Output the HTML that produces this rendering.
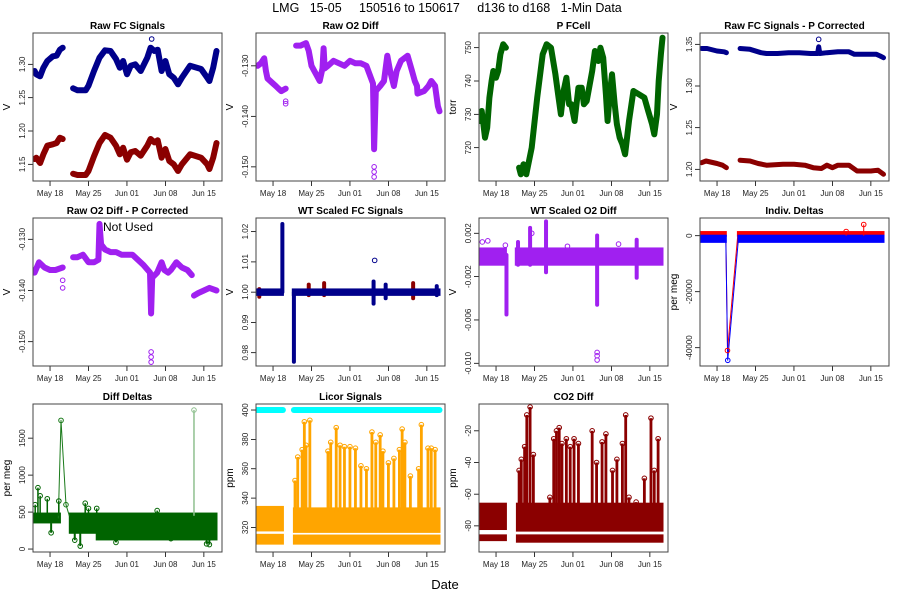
<!DOCTYPE html>
<html><head><meta charset="utf-8"><style>
html,body{margin:0;padding:0;background:#fff;}
svg{display:block;font-family:"Liberation Sans",Arial,sans-serif;}
</style></head><body>
<svg id="chart" width="900" height="600" viewBox="0 0 900 600" xmlns="http://www.w3.org/2000/svg">
<text x="447" y="12" text-anchor="middle" font-size="12.5" fill="#000" style="white-space:pre" xml:space="preserve">LMG   15-05     150516 to 150617     d136 to d168   1-Min Data</text>
<text x="445" y="589" text-anchor="middle" font-size="13" fill="#000">Date</text>
</svg>
<script>
// ---- x axis (days relative to May 18) ----
const xTickDays = [0, 7, 14, 21, 28];
const xTickLabels = ["May 18", "May 25", "Jun 01", "Jun 08", "Jun 15"];

// ---- Panel 1: Raw FC Signals ----
const p1Blue = [[-2.8,1.29],[-2.5,1.285],[-1.8,1.282],[-1.2,1.295],[-0.5,1.305],[0.5,1.312],[1.2,1.313],[1.8,1.322],[2.3,1.325],null,[4.2,1.264],[5,1.261],[6.5,1.261],[7,1.268],[8,1.29],[9,1.31],[10,1.321],[11,1.32],[12,1.308],[12.7,1.295],[13.3,1.305],[14,1.285],[14.7,1.298],[15.5,1.30],[16.5,1.29],[17.7,1.31],[18.3,1.325],[19,1.32],[19.6,1.322],[20.3,1.29],[21,1.305],[21.7,1.285],[22.5,1.28],[23.3,1.27],[24,1.28],[25.5,1.298],[27.5,1.293],[28.6,1.28],[29,1.275],[29.7,1.295],[30.3,1.32]];
const p1Red = [[-2.8,1.158],[-2.5,1.16],[-1.8,1.152],[-1.2,1.165],[-0.5,1.178],[0.5,1.18],[1.2,1.182],[1.8,1.19],[2.3,1.188],null,[4.2,1.136],[5,1.134],[6.5,1.134],[7,1.14],[8,1.162],[9,1.182],[10,1.194],[11,1.19],[12,1.178],[12.7,1.165],[13.3,1.175],[14,1.157],[14.7,1.168],[15.5,1.17],[16.5,1.163],[17.7,1.178],[18.3,1.188],[19,1.183],[19.6,1.186],[20.3,1.16],[21,1.173],[21.7,1.155],[22.5,1.15],[23.3,1.14],[24,1.15],[25.5,1.165],[27.5,1.16],[28.6,1.15],[29,1.143],[29.7,1.16],[30.3,1.182]];
const p1BlueOutliers = [[18.5,1.338]];

// ---- Panel 2: Raw O2 Diff ----
const p2Purple = [[-2.8,-0.130],[-2.2,-0.1295],[-1.6,-0.1285],[-1.3,-0.131],[-1,-0.1325],[0,-0.1335],[0.5,-0.134],[1,-0.1345],[1.5,-0.135],[2.3,-0.1345],null,[4.2,-0.126],[5,-0.126],[6,-0.1255],[6.5,-0.127],[7,-0.13],[8,-0.132],[8.5,-0.133],[9,-0.1305],[9.2,-0.1265],[9.4,-0.1305],[10,-0.130],[11,-0.129],[12,-0.1295],[13,-0.130],[14,-0.129],[15,-0.1295],[16,-0.1295],[17,-0.130],[18.2,-0.1335],[18.4,-0.1465],[18.7,-0.135],[19.5,-0.134],[20.2,-0.133],[20.8,-0.128],[21.3,-0.131],[22,-0.134],[22.5,-0.131],[23.3,-0.129],[24.5,-0.128],[25.3,-0.131],[25.8,-0.133],[26.2,-0.134],[26.3,-0.1355],[27.5,-0.135],[28.3,-0.134],[28.8,-0.133],[29.5,-0.134],[30,-0.138],[30.3,-0.139]];
const p2Outliers = [[2.3,-0.137],[2.3,-0.1375],[18.4,-0.150],[18.4,-0.151],[18.4,-0.152]];

// ---- Panel 3: P FCell ----
const p3Green = [[-2.9,728],[-2.6,731],[-2.3,727],[-2,723],[-1.6,726],[-1.2,735],[-0.8,740],[-0.5,743],[0,741],[0.4,743],[0.8,748],[1.3,751],[1.8,750],null,[4.2,714],[4.5,712],[5,715],[5.5,712],[6.5,720],[7.5,735],[8.5,748],[9.2,751],[10,750],[10.8,742],[11.3,736],[11.8,730],[12.3,737],[12.8,741],[13.3,733],[13.7,733],[14.3,728],[15,738],[15.6,738],[16,733],[16.5,734],[17.5,743],[18,749],[18.6,746],[19,750],[19.5,747],[20,736],[20.3,728],[20.7,736],[21.1,742],[21.6,733],[22,727],[22.5,723],[23,721],[23.5,718],[24.2,728],[25,737],[26,736],[27,735],[27.7,731],[28.4,727],[28.8,724],[29.3,730],[29.6,740],[30,748],[30.3,753]];

// ---- Panel 4: Raw FC Signals - P Corrected ----
const p4Blue = [[-2.8,1.345],[-1.8,1.345],[0,1.342],[1.3,1.341],[1.7,1.340],null,[4.2,1.345],[6,1.344],[8,1.340],[9,1.339],[11,1.339],[13,1.340],[15,1.340],[17,1.339],[18.3,1.339],[18.5,1.347],[18.7,1.339],[20,1.340],[22,1.341],[24,1.341],[25,1.338],[27,1.338],[29,1.338],[29.7,1.336],[30.3,1.334]];
const p4Red = [[-2.8,1.208],[-2,1.210],[0,1.207],[1,1.205],[1.7,1.202],null,[4.2,1.211],[6,1.210],[7.5,1.207],[9,1.205],[12,1.206],[14,1.206],[16,1.205],[17.5,1.202],[19,1.201],[20,1.205],[21,1.202],[22,1.205],[24,1.205],[25.5,1.198],[28,1.198],[29.3,1.199],[30.3,1.194]];
const p4Outliers = [[18.5,1.356]];

// ---- Panel 5: Raw O2 Diff - P Corrected ----
const p5Purple = [[-2.8,-0.1365],[-2,-0.1345],[-1,-0.1355],[0,-0.136],[1,-0.136],[2.3,-0.1355],null,[4.2,-0.1335],[5,-0.1335],[6,-0.133],[7,-0.1345],[8,-0.1345],[8.8,-0.134],[9,-0.1270],[9.3,-0.131],[10,-0.132],[11,-0.1325],[12,-0.1325],[13,-0.133],[14,-0.133],[15,-0.133],[16,-0.134],[17,-0.135],[18.2,-0.1365],[18.4,-0.1445],[18.6,-0.1375],[19.5,-0.1365],[20.3,-0.1345],[20.8,-0.136],[21.5,-0.1365],[22,-0.136],[23,-0.1345],[24,-0.1355],[25,-0.136],[25.8,-0.137],null,[26.2,-0.141],[27,-0.1405],[28,-0.140],[29,-0.1395],[30.3,-0.140]];
const p5Outliers = [[2.3,-0.138],[2.3,-0.1395],[18.4,-0.152],[18.4,-0.153],[18.4,-0.154]];

// ---- Panel 6: WT Scaled FC Signals ----
const p6BlueBands = [[-2.9,1.8,0.9991,1.0009],[3.6,30.3,0.9991,1.0009]];
const p6BlueSegs = [[1.7,1.0,1.0225],[3.8,0.977,1.0],[18.3,0.9962,1.0035],[20.5,0.998,1.0025],[29.8,0.999,1.002]];
const p6RedSegs = [[-2.5,0.9985,1.001],[6.5,0.999,1.0025],[9.3,0.999,1.003],[25.5,0.998,1.003]];
const p6BlueOutliers = [[18.5,1.0105]];

// ---- Panel 7: WT Scaled O2 Diff ----
const p7Bands = [[-2.9,1.8,-0.0009,0.0006],[3.6,30.3,-0.0009,0.0006]];
const p7Segs = [[1.9,-0.0055,0.0],[4.0,-0.0009,0.0012],[6.2,-0.0009,0.0025],[9.1,-0.0016,0.0031],[18.4,-0.0046,0.0018],[25.6,-0.0021,0.0014]];
const p7Outliers = [[18.4,-0.009],[18.4,-0.0093],[18.4,-0.0097],[-2.5,0.0012],[-1.5,0.0013],[1.7,0.0009],[6.5,0.002],[13,0.0008],[22.3,0.001]];

// ---- Panel 8: Indiv. Deltas ----
const p8RedLine = [[-2.9,700],[1.6,700],[1.9,-41000],[3.8,700],[30.3,700]];
const p8BlueLine = [[-2.9,-900],[1.6,-900],[1.95,-44500],[3.9,-900],[30.3,-900]];
const p8RedOutliers = [[1.9,-41000],[26.7,4000],[23.5,1500]];
const p8BlueOutliers = [[1.95,-44500]];

// ---- Panel 9: Diff Deltas ----
const p9Bands = [[-2.9,1.8,360,480],[3.6,8.5,220,480],[8.5,30.3,130,480]];
const p9Line = [[1.5,420],[2,1740],[2.9,600],[3.5,450]];
const p9Spikes = [[-2.7,600],[-2.2,830],[-1.8,720],[-0.5,680],[1.6,650],[6.4,620],[7,550],[8.5,550],[19.5,520]];
const p9LowSpikes = [[0.2,220],[4.5,120],[5.5,40],[29,60],[28.5,70],[22,140],[12,90]];
const p9LightSpike = [26.2,1880];

// ---- Panel 10: Licor Signals ----
const p10Cyan = [[-2.9,1.8],[3.8,30.3]];
const p10CyanValue = 400;
const p10Bands = [[-2.9,1.8,309,315],[3.8,30.3,309,314.5],[-2.9,1.8,318,334],[3.8,30.3,317,333]];
const p10Spikes = [[4,352],[4.5,368],[5.3,373],[5.7,392],[6,376],[6.7,393],[10,372],[10.5,378],[11.5,388],[12.2,376],[13,375],[14,375],[15,374],[16,362],[17,360],[18,385],[18.7,378],[19.5,383],[20,372],[21,364],[22,367],[23,373],[23.5,387],[24,378],[25,355],[26.5,360],[27,390],[28.2,374],[28.8,374],[29.5,373]];

// ---- Panel 11: CO2 Diff ----
const p11Bands = [[-2.9,1.8,-89,-86],[3.8,30.3,-90,-86],[-2.9,1.8,-82,-66],[3.8,30.3,-83,-66]];
const p11Spikes = [[4.2,-45],[4.6,-38],[5.2,-30],[5.6,-10],[6.2,-5],[6.8,-35],[9.8,-62],[10.5,-25],[11,-20],[11.5,-18],[12,-28],[12.8,-25],[13.5,-30],[14.2,-25],[15,-28],[17.5,-20],[18.3,-40],[19.3,-27],[20,-22],[21.2,-45],[22,-38],[23,-28],[23.6,-10],[24.2,-62],[25.5,-65],[27,-50],[28.2,-12],[28.8,-45],[29.5,-25]];

const svg = document.getElementById('chart');
const NS = 'http://www.w3.org/2000/svg';
const colX = [33, 256, 479, 700], rowY = [33, 218, 404], PW = 189, PH = 148;
const XMIN = -3.1, XMAX = 31.3;

function mk(tag, attrs, parent) {
  const e = document.createElementNS(NS, tag);
  for (const k in attrs) e.setAttribute(k, attrs[k]);
  (parent || svg).appendChild(e);
  return e;
}

function makePanel(name, col, row, ymin, ymax, ticks, labels, title, ylab) {
  const x0 = colX[col], y0 = rowY[row];
  const g = mk('g', {});
  
  
  const P = {
    g: g, x0: x0, y0: y0,
    X: d => x0 + (d - XMIN) / (XMAX - XMIN) * PW,
    Y: v => y0 + PH - (v - ymin) / (ymax - ymin) * PH
  };
  const clip = mk('clipPath', { id: 'clip-' + name }, g);
  mk('rect', { x: x0, y: y0, width: PW, height: PH }, clip);
  P.plot = mk('g', { 'clip-path': 'url(#clip-' + name + ')' }, g);
  
  
  const t = mk('text', { x: x0 + PW / 2, y: y0 - 4, 'text-anchor': 'middle', 'font-size': 10, 'font-weight': 'bold' }, g);
  t.textContent = title;
  
  
  const yl = mk('text', { transform: 'translate(' + (x0 - 23) + ',' + (y0 + PH / 2) + ') rotate(-90)', 'text-anchor': 'middle', 'font-size': 10 }, g);
  yl.textContent = ylab;
  
  
  ticks.forEach((v, i) => {
    const y = P.Y(v);
    mk('line', { x1: x0 - 5, x2: x0, y1: y, y2: y, stroke: '#000', 'stroke-width': 0.8 }, g);
    const tl = mk('text', { transform: 'translate(' + (x0 - 8) + ',' + y + ') rotate(-90)', 'text-anchor': 'middle', 'font-size': 8, fill: '#222' }, g);
    tl.textContent = labels[i];
    
    
  });
  xTickDays.forEach((d, i) => {
    const x = P.X(d);
    mk('line', { x1: x, x2: x, y1: y0 + PH, y2: y0 + PH + 5, stroke: '#000', 'stroke-width': 0.8 }, g);
    const xl = mk('text', { x: x, y: y0 + PH + 15, 'text-anchor': 'middle', 'font-size': 8, fill: '#222' }, g);
    xl.textContent = xTickLabels[i];
    
    
  });
  P.frame = () => {
    const fr = mk('rect', { x: x0, y: y0, width: PW, height: PH, fill: 'none', stroke: '#444', 'stroke-width': 1 }, g);
    
    
  };
  return P;
}

function pathOf(P, pts) {
  let d = '', pen = false;
  pts.forEach(p => {
    if (!p) { pen = false; return; }
    d += (pen ? 'L' : 'M') + P.X(p[0]).toFixed(1) + ',' + P.Y(p[1]).toFixed(1);
    pen = true;
  });
  return d;
}
function thickLine(P, pts, color, w, nm) {
  const e = mk('path', { d: pathOf(P, pts), fill: 'none', stroke: color, 'stroke-width': w, 'stroke-linejoin': 'round', 'stroke-linecap': 'round' }, P.plot);
  
  
}
function circles(P, pts, color, nm) {
  pts.forEach(p => {
    const c = mk('circle', { cx: P.X(p[0]), cy: P.Y(p[1]), r: 2.3, fill: 'none', stroke: color, 'stroke-width': 1 }, P.plot);
    
    
  });
}
function bands(P, arr, color, nm) {
  arr.forEach(b => {
    const r = mk('rect', { x: P.X(b[0]) - 1, y: P.Y(b[3]) - 1, width: P.X(b[1]) - P.X(b[0]) + 2, height: P.Y(b[2]) - P.Y(b[3]) + 2, fill: color }, P.plot);
    
    
  });
}
function segs(P, arr, color, w, nm) {
  arr.forEach(s => {
    const l = mk('line', { x1: P.X(s[0]), x2: P.X(s[0]), y1: P.Y(s[1]), y2: P.Y(s[2]), stroke: color, 'stroke-width': w, 'stroke-linecap': 'round' }, P.plot);
    
    
  });
}
function spikes(P, arr, base, color, w, nm) {
  arr.forEach(s => {
    const l = mk('line', { x1: P.X(s[0]), x2: P.X(s[0]), y1: P.Y(base), y2: P.Y(s[1]), stroke: color, 'stroke-width': w }, P.plot);
    
    
    const c = mk('circle', { cx: P.X(s[0]), cy: P.Y(s[1]), r: 2.3, fill: 'none', stroke: color, 'stroke-width': 1 }, P.plot);
    
    
  });
}

const BLUE = '#00008B', RED = '#8B0000', PURPLE = '#A020F0', GREEN = '#006400', ORANGE = '#FFA500';

let P = makePanel('raw-fc-signals', 0, 0, 1.125, 1.347, [1.15, 1.20, 1.25, 1.30], ['1.15', '1.20', '1.25', '1.30'], 'Raw FC Signals', 'V');
thickLine(P, p1Blue, BLUE, 6, 'series-fc-blue');
thickLine(P, p1Red, RED, 6, 'series-fc-red');
circles(P, p1BlueOutliers, BLUE, 'fc-blue-outlier');
P.frame();

P = makePanel('raw-o2-diff', 1, 0, -0.1528, -0.1235, [-0.150, -0.140, -0.130], ['-0.150', '-0.140', '-0.130'], 'Raw O2 Diff', 'V');
thickLine(P, p2Purple, PURPLE, 6, 'series-o2-diff');
circles(P, p2Outliers, PURPLE, 'o2-diff-outlier');
P.frame();

P = makePanel('p-fcell', 2, 0, 710.0, 754.4, [720, 730, 740, 750], ['720', '730', '740', '750'], 'P FCell', 'torr');
thickLine(P, p3Green, GREEN, 6, 'series-p-fcell');
P.frame();

P = makePanel('raw-fc-p-corrected', 3, 0, 1.186, 1.3636, [1.20, 1.25, 1.30, 1.35], ['1.20', '1.25', '1.30', '1.35'], 'Raw FC Signals - P Corrected', 'V');
thickLine(P, p4Blue, BLUE, 5, 'series-fc-corr-blue');
thickLine(P, p4Red, RED, 5, 'series-fc-corr-red');
circles(P, p4Outliers, BLUE, 'fc-corr-outlier');
P.frame();

P = makePanel('raw-o2-p-corrected', 0, 1, -0.15475, -0.12584, [-0.150, -0.140, -0.130], ['-0.150', '-0.140', '-0.130'], 'Raw O2 Diff - P Corrected', 'V');
thickLine(P, p5Purple, PURPLE, 6, 'series-o2-corr');
circles(P, p5Outliers, PURPLE, 'o2-corr-outlier');
P.frame();
const nu = mk('text', { x: 128, y: 231, 'text-anchor': 'middle', 'font-size': 12 }, P.g);
nu.textContent = 'Not Used';



P = makePanel('wt-scaled-fc', 1, 1, 0.9756, 1.0245, [0.98, 0.99, 1.00, 1.01, 1.02], ['0.98', '0.99', '1.00', '1.01', '1.02'], 'WT Scaled FC Signals', 'V');
segs(P, p6RedSegs, RED, 4, 'wt-fc-red-spike');
bands(P, p6BlueBands, BLUE, 'wt-fc-band');
segs(P, p6BlueSegs, BLUE, 4, 'wt-fc-blue-spike');
circles(P, p6BlueOutliers, BLUE, 'wt-fc-outlier');
P.frame();

P = makePanel('wt-scaled-o2', 2, 1, -0.01025, 0.00341, [-0.010, -0.006, -0.002, 0.002], ['-0.010', '-0.006', '-0.002', '0.002'], 'WT Scaled O2 Diff', 'V');
bands(P, p7Bands, PURPLE, 'wt-o2-band');
segs(P, p7Segs, PURPLE, 4, 'wt-o2-spike');
circles(P, p7Outliers, PURPLE, 'wt-o2-outlier');
P.frame();

P = makePanel('indiv-deltas', 3, 1, -46536, 6321, [-40000, -20000, 0], ['-40000', '-20000', '0'], 'Indiv. Deltas', 'per meg');
thickLine(P, p8RedLine, '#FF0000', 1, 'series-delta-red-line');
bands(P, [[-2.9, 1.6, 0, 1300], [3.8, 30.3, 0, 1300]], '#FF0000', 'delta-red-band');
thickLine(P, p8BlueLine, '#0000FF', 1, 'series-delta-blue-line');
bands(P, [[-2.9, 1.6, -2200, 0], [3.9, 30.3, -2200, 0]], '#0000FF', 'delta-blue-band');
spikes(P, [p8RedOutliers[1], p8RedOutliers[2]], 0, '#FF0000', 1, 'delta-red-spike');
circles(P, [p8RedOutliers[0]], '#FF0000', 'delta-red-outlier');
circles(P, p8BlueOutliers, '#0000FF', 'delta-blue-outlier');
P.frame();

P = makePanel('diff-deltas', 0, 2, -40, 1962, [0, 500, 1000, 1500], ['0', '500', '1000', '1500'], 'Diff Deltas', 'per meg');
bands(P, p9Bands, GREEN, 'diff-delta-band');
thickLine(P, p9Line, '#1a7a1a', 1, 'diff-delta-line');
circles(P, [p9Line[1], p9Line[2]], '#1a7a1a', 'diff-delta-outlier');
spikes(P, p9Spikes, 450, GREEN, 1.5, 'diff-delta-spike');
spikes(P, p9LowSpikes, 350, GREEN, 2, 'diff-delta-low-spike');
spikes(P, [p9LightSpike], 450, '#8fc08f', 1.5, 'diff-delta-light-spike');
P.frame();

P = makePanel('licor-signals', 1, 2, 303.3, 404.1, [320, 340, 360, 380, 400], ['320', '340', '360', '380', '400'], 'Licor Signals', 'ppm');
bands(P, p10Bands, ORANGE, 'licor-band');
p10Spikes.forEach(s => {
  const r = mk('rect', { x: P.X(s[0]) - 1.4, y: P.Y(s[1]), width: 2.8, height: P.Y(330) - P.Y(s[1]), fill: ORANGE }, P.plot);
  
  
  const c = mk('circle', { cx: P.X(s[0]), cy: P.Y(s[1]), r: 2.3, fill: 'none', stroke: ORANGE, 'stroke-width': 1 }, P.plot);
  
  
});
p10Cyan.forEach(s => {
  const l = mk('line', { x1: P.X(s[0]), x2: P.X(s[1]), y1: P.Y(p10CyanValue), y2: P.Y(p10CyanValue), stroke: '#00FFFF', 'stroke-width': 6, 'stroke-linecap': 'round' }, P.plot);
  
  
});
P.frame();

P = makePanel('co2-diff', 2, 2, -96.5, -3.07, [-80, -60, -40, -20], ['-80', '-60', '-40', '-20'], 'CO2 Diff', 'ppm');
bands(P, p11Bands, RED, 'co2-band');
p11Spikes.forEach(s => {
  const r = mk('rect', { x: P.X(s[0]) - 1.4, y: P.Y(s[1]), width: 2.8, height: P.Y(-70) - P.Y(s[1]), fill: RED }, P.plot);
  
  
  const c = mk('circle', { cx: P.X(s[0]), cy: P.Y(s[1]), r: 2.3, fill: 'none', stroke: RED, 'stroke-width': 1 }, P.plot);
  
  
});
P.frame();
</script>
</body></html>
